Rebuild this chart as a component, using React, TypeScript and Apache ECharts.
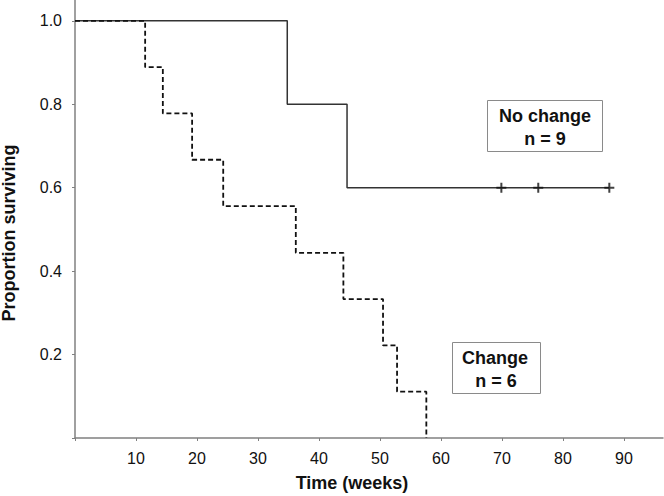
import React, { useEffect, useRef } from "react";
import * as echarts from "echarts";

const noChangeSteps: [number, number][] = [
  [0, 1.0],
  [34.8, 0.8],
  [44.6, 0.6],
  [87.6, 0.6],
];
const noChangeCensored: [number, number][] = [
  [69.9, 0.6],
  [75.95, 0.6],
  [87.6, 0.6],
];
const changeSteps: [number, number][] = [
  [0, 1.0],
  [11.5, 0.889],
  [14.4, 0.778],
  [19.2, 0.667],
  [24.3, 0.556],
  [36.2, 0.444],
  [44.0, 0.333],
  [50.5, 0.222],
  [52.8, 0.111],
  [57.6, 0.0],
];
const xTicks = [0, 10, 20, 30, 40, 50, 60, 70, 80, 90];
const xLabels = [10, 20, 30, 40, 50, 60, 70, 80, 90];
const yTicks = [0, 0.2, 0.4, 0.6, 0.8, 1.0];
const yLabels = [0.2, 0.4, 0.6, 0.8, 1.0];

const FONT = "'Liberation Sans', Arial, Helvetica, sans-serif";
const AXIS_COLOR = "#808080";

export default function App() {
  const ref = useRef<HTMLDivElement>(null);
  useEffect(() => {
    if (!ref.current) return;
    const chart = echarts.init(ref.current, undefined, { renderer: "svg" });
    chart.setOption({
      animation: false,
      backgroundColor: "#ffffff",
      grid: { left: 75, top: 0, right: 1, bottom: 58, containLabel: false },
      xAxis: {
        type: "value",
        min: 0,
        max: 96.4,
        splitLine: { show: false },
        axisLine: { show: true, lineStyle: { color: AXIS_COLOR, width: 1.5 } },
        axisTick: {
          show: true,
          length: 3,
          customValues: xTicks,
          lineStyle: { color: AXIS_COLOR, width: 1 },
        },
        axisLabel: {
          customValues: xLabels,
          margin: 12,
          fontSize: 16,
          fontFamily: FONT,
          color: "#111",
        },
      },
      yAxis: {
        type: "value",
        min: 0,
        max: 1.05,
        splitLine: { show: false },
        axisLine: { show: true, lineStyle: { color: AXIS_COLOR, width: 1.5 } },
        axisTick: {
          show: true,
          length: 3,
          customValues: yTicks,
          lineStyle: { color: AXIS_COLOR, width: 1 },
        },
        axisLabel: {
          customValues: yLabels,
          margin: 13,
          fontSize: 16,
          fontFamily: FONT,
          color: "#111",
          formatter: (v: number) => v.toFixed(1),
        },
      },
      series: [
        {
          type: "line",
          step: "end",
          data: noChangeSteps,
          showSymbol: false,
          lineStyle: { color: "#333", width: 1.5, type: "solid" },
          z: 3,
        },
        {
          type: "scatter",
          data: noChangeCensored,
          symbol: "path://M-1,-5H1V-1H5V1H1V5H-1V1H-5V-1H-1Z",
          symbolSize: 10,
          symbolKeepAspect: true,
          itemStyle: { color: "#111" },
          z: 4,
        },
        {
          type: "line",
          step: "end",
          data: changeSteps,
          showSymbol: false,
          lineStyle: { color: "#111", width: 1.8, type: [5, 3] },
          z: 3,
        },
      ],
      graphic: [
        {
          type: "text",
          x: 9,
          y: 233,
          rotation: Math.PI / 2,
          style: {
            text: "Proportion surviving",
            fontSize: 18,
            fontWeight: "bold",
            fontFamily: FONT,
            fill: "#111",
            align: "center",
            verticalAlign: "middle",
          },
        },
        {
          type: "text",
          x: 352,
          y: 483,
          style: {
            text: "Time (weeks)",
            fontSize: 18,
            fontWeight: "bold",
            fontFamily: FONT,
            fill: "#111",
            align: "center",
            verticalAlign: "middle",
          },
        },
        {
          type: "rect",
          shape: { x: 487.5, y: 100.5, width: 115, height: 51 },
          style: { fill: "#fff", stroke: "#8a8a8a", lineWidth: 1 },
          z: 10,
        },
        {
          type: "text",
          x: 545,
          y: 116,
          z: 11,
          style: {
            text: "No change",
            fontSize: 18,
            fontWeight: "bold",
            fontFamily: FONT,
            fill: "#111",
            align: "center",
            verticalAlign: "middle",
          },
        },
        {
          type: "text",
          x: 545,
          y: 139,
          z: 11,
          style: {
            text: "n = 9",
            fontSize: 18,
            fontWeight: "bold",
            fontFamily: FONT,
            fill: "#111",
            align: "center",
            verticalAlign: "middle",
          },
        },
        {
          type: "rect",
          shape: { x: 452.5, y: 342.5, width: 88, height: 51 },
          style: { fill: "#fff", stroke: "#8a8a8a", lineWidth: 1 },
          z: 10,
        },
        {
          type: "text",
          x: 495,
          y: 358,
          z: 11,
          style: {
            text: "Change",
            fontSize: 18,
            fontWeight: "bold",
            fontFamily: FONT,
            fill: "#111",
            align: "center",
            verticalAlign: "middle",
          },
        },
        {
          type: "text",
          x: 496,
          y: 381,
          z: 11,
          style: {
            text: "n = 6",
            fontSize: 18,
            fontWeight: "bold",
            fontFamily: FONT,
            fill: "#111",
            align: "center",
            verticalAlign: "middle",
          },
        },
      ],
    });
    return () => chart.dispose();
  }, []);
  return <div ref={ref} style={{ width: 664, height: 496, position: "fixed", left: 0, top: 0 }} />;
}
